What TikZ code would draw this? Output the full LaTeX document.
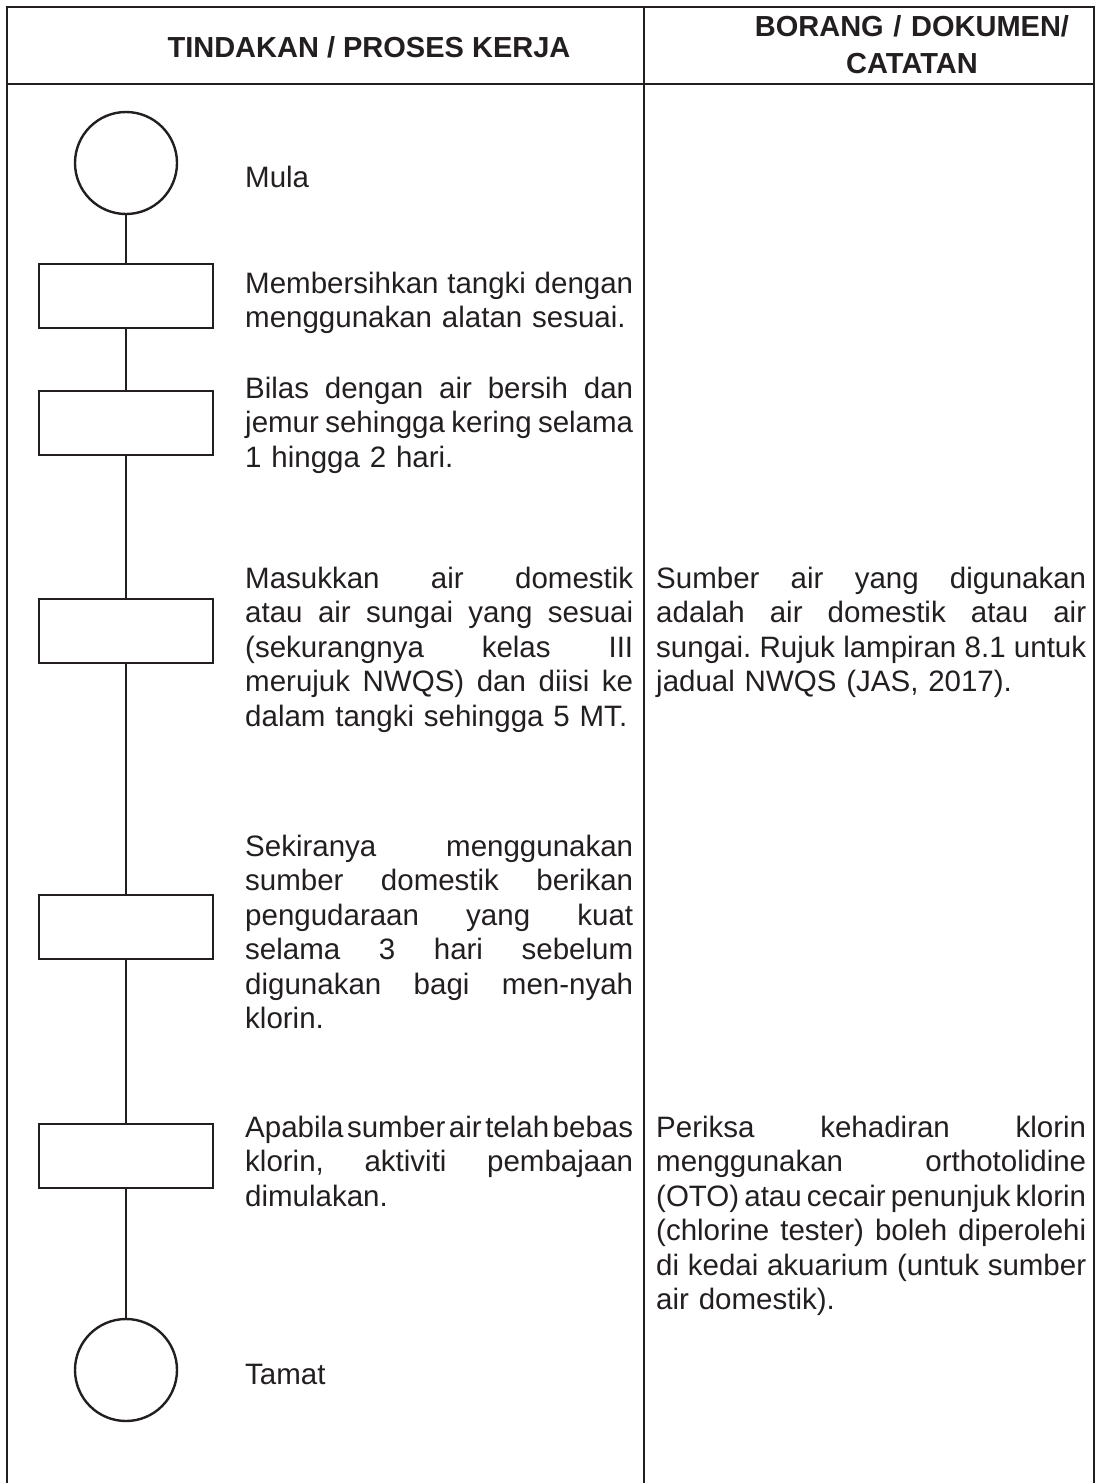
\documentclass[tikz,border=0pt]{standalone}
\usepackage{fontspec}
\setmainfont{Liberation Sans}
\definecolor{ink}{HTML}{231F20}
\newcommand\jl[2]{\leavevmode\hbox to #1{\frenchspacing\spaceskip=0pt plus 1fil\relax #2}}
\newcommand\jla[1]{\jl{388pt}{#1}}
\newcommand\jlb[1]{\jl{430pt}{#1}}
\tikzset{
  grid/.style={draw=ink, line width=1.3pt},
  flow/.style={draw=ink, line width=2.4pt},
  terminal/.style={circle, draw=ink, line width=2.4pt, minimum size=102pt, inner sep=0pt},
  stepbox/.style={rectangle, draw=ink, line width=2.4pt, minimum width=174pt, minimum height=64pt, inner sep=0pt},
  body/.style={anchor=base west, inner sep=0pt, text width=388pt, align=left, font=\fontsize{29.5}{34.5}\selectfont, text=ink},
  rbody/.style={body, text width=430pt},
  head/.style={anchor=base, inner sep=0pt, font=\bfseries\fontsize{29}{37}\selectfont, text=ink}
}
\begin{document}
\begin{tikzpicture}[x=1pt, y=-1pt]
\useasboundingbox (0,0) rectangle (1095,1483);
% table
\draw[grid] (7,1483) -- (7,7) -- (1094,7) -- (1094,1483);
\draw[grid] (7,84) -- (1094,84);
\draw[grid] (644,7) -- (644,1483);
% headers
\node[head] (h1) at (369,57) {TINDAKAN / PROSES KERJA};
\node[head, text width=400pt, align=center] (h2) at (912,36) {BORANG / DOKUMEN/\\CATATAN};
% flow shapes
\node[terminal] (start) at (126,163) {};
\node[stepbox] (b1) at (126,296) {};
\node[stepbox] (b2) at (126,423) {};
\node[stepbox] (b3) at (126,631) {};
\node[stepbox] (b4) at (126,927) {};
\node[stepbox] (b5) at (126,1156) {};
\node[terminal] (end) at (126,1370) {};
\draw[flow] (start) -- (b1);
\draw[flow] (b1) -- (b2);
\draw[flow] (b2) -- (b3);
\draw[flow] (b3) -- (b4);
\draw[flow] (b4) -- (b5);
\draw[flow] (b5) -- (end);
% left texts
\node[body] (tMula) at (245,187) {Mula};
\node[body] (t1) at (245,293) {\jla{Membersihkan tangki dengan}\\menggunakan alatan sesuai.};
\node[body] (t2) at (245,398) {\jla{Bilas dengan air bersih dan}\\\jla{jemur sehingga kering selama}\\1 hingga 2 hari.};
\node[body] (t3) at (245,588) {\jla{Masukkan air domestik}\\\jla{atau air sungai yang sesuai}\\\jla{(sekurangnya kelas III}\\\jla{merujuk NWQS) dan diisi ke}\\dalam tangki sehingga 5 MT.};
\node[body] (t4) at (245,856) {\jla{Sekiranya menggunakan}\\\jla{sumber domestik berikan}\\\jla{pengudaraan yang kuat}\\\jla{selama 3 hari sebelum}\\\jla{digunakan bagi men-nyah}\\klorin.};
\node[body] (t5) at (245,1137) {\jla{Apabila sumber air telah bebas}\\\jla{klorin, aktiviti pembajaan}\\dimulakan.};
\node[body] (tTamat) at (245,1384) {Tamat};
% right texts
\node[rbody] (r1) at (656,588) {\jlb{Sumber air yang digunakan}\\\jlb{adalah air domestik atau air}\\\jlb{sungai. Rujuk lampiran 8.1 untuk}\\jadual NWQS (JAS, 2017).};
\node[rbody] (r2) at (656,1137) {\jlb{Periksa kehadiran klorin}\\\jlb{menggunakan orthotolidine}\\\jlb{(OTO) atau cecair penunjuk klorin}\\\jlb{(chlorine tester) boleh diperolehi}\\\jlb{di kedai akuarium (untuk sumber}\\air domestik).};
\end{tikzpicture}
\end{document}
